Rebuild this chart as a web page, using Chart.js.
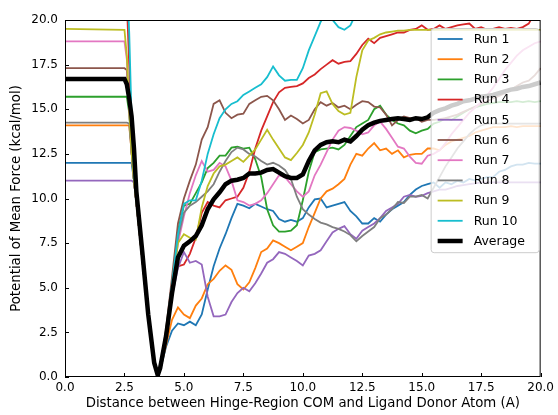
<!DOCTYPE html>
<html>
<head>
<meta charset="utf-8">
<title>PMF runs</title>
<script src="https://cdn.jsdelivr.net/npm/chart.js@4.4.1/dist/chart.umd.min.js"></script>
<style>
  html, body { margin: 0; padding: 0; background: #fff; }
  canvas { display: block; }
</style>
</head>
<body>
<canvas id="pmfChart" width="558" height="415"></canvas>
<script>
// distance grid (A) shared by all series
const xs = [
  0, 2.5, 2.6, 2.7, 2.8, 2.9, 3.0, 3.25, 3.5, 3.75, 3.9,
  4.0, 4.25, 4.5, 4.75, 5.0, 5.25, 5.5, 5.75, 6.0, 6.25, 6.5, 6.75, 7.0, 7.25, 7.5, 7.75,
  8.0, 8.25, 8.5, 8.75, 9.0, 9.25, 9.5, 9.75, 10.0, 10.25, 10.5, 10.75, 11.0, 11.25, 11.5, 11.75,
  12.0, 12.25, 12.5, 12.75, 13.0, 13.25, 13.5, 13.75, 14.0, 14.25, 14.5, 14.75, 15.0, 15.25, 15.5, 15.75,
  16.0, 16.25, 16.5, 16.75, 17.0, 17.25, 17.5, 17.75, 18.0, 18.25, 18.5, 18.75, 19.0, 19.25, 19.5, 19.75,
  20.0
];

// PMF (kcal/mol) per run
const run1 = [
  12, 12, 12, 12, 12, 11.0, 9.8, 6.6, 3.3, 0.9, 0.05,
  0.4, 1.7, 2.6, 3.0, 2.9, 3.1, 2.9, 3.5, 4.9, 6.2, 7.2, 8.0, 8.9, 9.7, 9.6, 9.45,
  9.7, 9.55, 9.4, 9.3, 8.85, 8.7, 8.8, 8.7, 8.9, 9.5, 9.95, 10.0, 9.5, 9.6, 9.7, 9.8,
  9.3, 9.0, 8.6, 8.6, 8.9, 8.7, 9.1, 9.4, 9.6, 9.8, 10.2, 10.5, 10.7, 10.8, 10.9, 10.6,
  10.9, 10.8, 11.0, 10.9, 11.1, 11.0, 11.1, 11.2, 11.2, 11.5, 11.6, 11.8, 11.9, 11.9, 12.0, 11.95,
  11.95
];
const run2 = [
  14.1, 14.1, 14.1, 14.1, 12.6, 11.0, 9.8, 6.6, 3.3, 0.9, 0.05,
  0.4, 1.8, 3.2, 3.9, 3.5, 3.3, 4.0, 4.4, 5.2, 5.5, 5.95, 6.25, 6.0, 5.2, 4.9, 5.3,
  6.1, 7.0, 7.2, 7.65, 7.5, 7.3, 7.1, 7.3, 7.5, 8.4, 9.2, 10.0, 10.4, 10.55, 10.8, 11.1,
  11.9, 12.5, 12.4, 12.8, 13.1, 12.7, 12.8, 12.5, 12.7, 12.3, 12.45, 12.5, 12.5, 12.8, 12.8, 12.7,
  13.0, 13.2, 13.3, 13.4, 13.5, 13.7, 13.8, 13.9, 14.0, 14.0, 14.0, 14.05, 14.0, 14.05, 14.05, 14.05,
  14.05
];
const run3 = [
  15.7, 15.7, 15.7, 14.8, 12.6, 11.0, 9.8, 6.6, 3.3, 0.9, 0.05,
  0.4, 2.6, 5.2, 8.2, 9.6, 9.7, 10.3, 10.9, 11.7, 12.0, 12.4, 12.4, 12.85, 12.9, 12.8, 12.85,
  12.2, 11.2, 9.4, 8.5, 8.14, 8.14, 8.2, 8.5, 9.9, 11.5, 12.6, 12.75, 12.8, 12.85, 12.75, 13.0,
  13.5, 14.0, 14.2, 14.4, 15.0, 15.2, 14.7, 14.4, 14.2, 14.1, 13.8, 13.65, 13.8, 13.9, 14.2, 14.3,
  14.5, 14.4, 14.6, 14.8, 15.0, 15.1, 15.2, 15.3, 15.35, 15.4, 15.4, 15.4, 15.45, 15.4, 15.45, 15.4,
  15.45
];
const run4 = [
  23, 23, 21, 17.5, 13.8, 11.3, 9.8, 6.6, 3.3, 0.9, 0.05,
  0.4, 2.4, 4.8, 6.2, 6.3, 6.9, 7.8, 9.2, 9.8, 9.6, 9.5, 9.9, 10.0, 10.1, 10.6, 11.5,
  12.8, 13.8, 14.6, 15.4, 15.95, 16.2, 16.25, 16.3, 16.45, 16.75, 16.95, 17.25, 17.5, 17.75, 17.55, 17.65,
  17.7, 18.1, 18.6, 18.95, 18.7, 19.0, 19.1, 19.2, 19.3, 19.3, 19.45, 19.5, 19.7, 19.45, 19.5, 19.7,
  19.5, 19.6, 19.7, 19.75, 19.8, 19.5, 19.6, 19.45, 19.5, 19.6, 19.5, 19.55, 19.5, 19.6, 19.8, 20.4,
  21
];
const run5 = [
  11, 11, 11, 11, 11, 10.9, 9.8, 6.6, 3.3, 0.9, 0.05,
  0.4, 2.4, 4.5, 6.1, 7.0, 6.4, 6.5, 6.3, 4.5, 3.4, 3.4, 3.5, 4.2, 4.7, 5.0, 4.8,
  5.25, 5.8, 6.4, 6.6, 7.0, 6.9, 6.7, 6.5, 6.25, 6.8, 6.9, 7.1, 7.6, 8.1, 8.3, 8.45,
  8.0, 7.75, 8.2, 8.4, 8.6, 8.9, 9.3, 9.5, 9.7, 10.1, 10.2, 10.1, 10.15, 10.3, 10.4, 10.5,
  10.5, 10.6, 10.7, 10.75, 10.8, 10.85, 10.9, 10.9, 10.9, 10.9, 10.9, 10.9, 10.9, 10.9, 10.9, 10.9,
  10.9
];
const run6 = [
  17.3, 17.3, 17.2, 15.0, 12.6, 11.0, 9.8, 6.6, 3.3, 0.9, 0.05,
  0.4, 2.7, 5.6, 8.6, 10.0, 11.0, 11.9, 13.3, 14.0, 15.3, 15.5, 14.8, 14.5, 14.7, 14.75, 15.3,
  15.5, 15.7, 15.75, 15.5, 15.0, 14.4, 14.65, 14.45, 14.2, 14.4, 15.0, 15.4, 15.2, 15.35, 15.1, 15.2,
  15.0, 15.25, 15.45, 15.4, 15.15, 15.1, 14.7, 14.1, 14.4, 14.6, 14.5, 14.5, 14.3, 14.4, 14.4, 14.45,
  14.5, 14.6, 14.7, 14.85, 15.0, 15.15, 15.3, 15.45, 15.6, 15.75, 15.9, 16.1, 16.3, 16.5, 16.6, 16.9,
  17.3
];
const run7 = [
  18.8, 18.8, 17.8, 15.0, 12.6, 11.0, 9.8, 6.6, 3.3, 0.9, 0.05,
  0.4, 2.5, 5.0, 7.5, 9.0, 10.3, 11.3, 12.1, 11.5, 11.6, 12.0, 11.8, 11.0, 9.9, 9.8, 9.6,
  9.7, 9.9, 10.3, 10.8, 11.3, 11.2, 10.8, 10.4, 10.1, 10.4, 11.3, 11.9, 12.6, 13.3, 13.8, 14.0,
  13.95, 13.8, 13.6, 13.7, 14.1, 14.3, 13.9, 13.4, 12.9, 12.8, 12.35, 12.0, 11.95, 12.4, 12.5, 12.7,
  13.1, 13.6, 14.0, 14.4, 14.8, 15.1, 15.4, 15.8, 16.2, 16.7, 17.2, 17.6, 18.0, 18.3, 18.5, 18.7,
  18.8
];
const run8 = [
  14.25, 14.25, 14.25, 14.2, 12.6, 11.0, 9.8, 6.6, 3.3, 0.9, 0.05,
  0.4, 2.5, 5.0, 7.8, 9.2, 9.6, 9.8, 10.1, 10.4, 10.8, 11.5, 12.1, 12.6, 12.85, 12.75, 12.5,
  12.35, 12.1, 11.9, 12.0, 11.85, 11.6, 11.1, 10.1, 9.4, 9.1, 8.85, 8.65, 8.55, 8.4, 8.3, 8.15,
  7.95, 7.6, 7.9, 8.15, 8.4, 8.9, 9.1, 9.4, 9.8, 9.75, 10.1, 10.1, 10.2, 10.0, 10.6, 11.2,
  11.8, 12.3, 12.8, 13.2, 13.6, 13.9, 14.1, 14.2, 14.2, 14.2, 14.2, 14.2, 14.2, 14.2, 14.2, 14.2,
  14.2
];
const run9 = [
  19.5, 19.45, 18.0, 15.0, 12.6, 11.0, 9.8, 6.6, 3.3, 0.9, 0.05,
  0.4, 2.5, 5.0, 7.5, 8.0, 7.8, 7.7, 9.5, 10.7, 11.4, 11.8, 11.9, 12.1, 12.3, 12.05, 12.4,
  12.75, 13.3, 13.85, 13.3, 12.8, 12.3, 12.15, 12.55, 13.0, 13.7, 14.7, 15.9, 16.0, 15.3, 14.9, 14.7,
  14.8, 16.8, 18.3, 18.85, 19.0, 19.2, 19.3, 19.35, 19.4, 19.4, 19.45, 19.45, 19.45, 19.45, 19.45, 19.45,
  19.45, 19.45, 19.45, 19.45, 19.45, 19.45, 19.45, 19.45, 19.45, 19.45, 19.45, 19.45, 19.45, 19.45, 19.45, 19.45,
  19.45
];
const run10 = [
  24, 24, 22.5, 19.3, 14.5, 11.5, 9.9, 6.7, 3.3, 0.9, 0.05,
  0.4, 2.5, 5.2, 8.0, 9.7, 9.9, 9.9, 11.0, 12.5, 13.6, 14.5, 15.0, 15.3, 15.45, 15.8, 16.0,
  16.2, 16.4, 16.8, 17.4, 16.9, 16.6, 16.65, 16.65, 17.3, 18.3, 19.1, 19.9, 20.4, 20.0, 19.6, 19.45,
  19.7, 20.4, 21.0, 21.4, 21.8, 22.0, 22.2, 22.3, 22.5, 22.6, 22.8, 22.9, 23.0, 23.1, 23.2, 23.3,
  23.4, 23.5, 23.6, 23.6, 23.7, 23.7, 23.8, 23.8, 23.9, 23.9, 23.9, 24.0, 24.0, 24.0, 24.0, 24.0,
  24.0
];
const average = [
  16.7, 16.7, 16.4, 15.6, 14.6, 12.8, 10.4, 7.0, 3.5, 0.8, 0.1,
  0.5, 2.3, 4.7, 6.7, 7.35, 7.6, 7.9, 8.5, 9.4, 9.95, 10.35, 10.8, 11.0, 11.05, 11.15, 11.4,
  11.4, 11.45, 11.6, 11.65, 11.45, 11.25, 11.15, 11.15, 11.35, 12.1, 12.7, 13.0, 13.15, 13.2, 13.15, 13.3,
  13.2, 13.5, 13.85, 14.1, 14.25, 14.35, 14.4, 14.45, 14.5, 14.45, 14.4, 14.5, 14.45, 14.55, 14.8, 14.95,
  15.05, 15.2, 15.3, 15.45, 15.5, 15.6, 15.7, 15.75, 15.8, 15.9, 16.0, 16.1, 16.15, 16.25, 16.3, 16.4,
  16.5
];

const seriesNames = ['Run 1', 'Run 2', 'Run 3', 'Run 4', 'Run 5', 'Run 6', 'Run 7', 'Run 8', 'Run 9', 'Run 10', 'Average'];
const seriesValues = [run1, run2, run3, run4, run5, run6, run7, run8, run9, run10, average];
const seriesColors = ['#1f77b4', '#ff7f0e', '#2ca02c', '#d62728', '#9467bd',
                      '#8c564b', '#e377c2', '#7f7f7f', '#bcbd22', '#17becf', '#000000'];
const tickValues = [0, 2.5, 5, 7.5, 10, 12.5, 15, 17.5, 20];

const tickFont = { family: 'DejaVu Sans', size: 12 };
const titleFont = { family: 'DejaVu Sans', size: 13.3 };
Chart.defaults.font.family = 'DejaVu Sans';
Chart.defaults.color = '#000';

// frame, inward ticks and an in-axes legend like matplotlib
const framePlugin = {
  id: 'frameAndLegend',
  afterDraw(chart) {
    const { ctx, chartArea: a, scales } = chart;
    ctx.save();
    ctx.strokeStyle = '#000';
    ctx.lineWidth = 1;
    ctx.strokeRect(a.left + 0.5, a.top + 0.5, a.right - a.left - 1, a.bottom - a.top - 1);
    ctx.beginPath();
    tickValues.forEach(v => {
      const px = Math.round(scales.x.getPixelForValue(v)) + 0.5;
      ctx.moveTo(px, a.bottom);
      ctx.lineTo(px, a.bottom - 4);
      const py = Math.round(scales.y.getPixelForValue(v)) + 0.5;
      ctx.moveTo(a.left, py);
      ctx.lineTo(a.left + 4, py);
    });
    ctx.stroke();

    // legend box
    const boxW = 108, rowH = 20.2;
    const boxH = rowH * seriesNames.length + 2;
    const bx = a.right - boxW - 2, by = a.top + 8;
    ctx.beginPath();
    ctx.roundRect(bx + 0.5, by + 0.5, boxW, boxH, 3);
    ctx.fillStyle = 'rgba(255,255,255,0.8)';
    ctx.fill();
    ctx.strokeStyle = '#cccccc';
    ctx.stroke();
    ctx.font = '12.5px "DejaVu Sans"';
    ctx.textBaseline = 'middle';
    ctx.textAlign = 'left';
    chart.data.datasets.forEach((ds, i) => {
      const cy = by + 11 + i * rowH;
      ctx.beginPath();
      ctx.strokeStyle = ds.borderColor;
      ctx.lineWidth = ds.borderWidth;
      ctx.moveTo(bx + 7, cy);
      ctx.lineTo(bx + 32, cy);
      ctx.stroke();
      ctx.fillStyle = '#000';
      ctx.fillText(ds.label, bx + 43, cy + 0.5);
    });
    ctx.restore();
  }
};

const datasets = seriesNames.map((name, i) => ({
  label: name,
  data: xs.map((x, j) => ({ x: x, y: seriesValues[i][j] })),
  borderColor: seriesColors[i],
  borderWidth: name === 'Average' ? 4.5 : 1.8,
  pointRadius: 0,
  tension: 0,
  fill: false,
  order: seriesNames.length - i
}));

const ctx = document.getElementById('pmfChart').getContext('2d');
new Chart(ctx, {
  type: 'line',
  data: { datasets: datasets },
  options: {
    responsive: false,
    animation: false,
    layout: { padding: { left: 0, right: 16, top: 20, bottom: 0 } },
    plugins: {
      legend: { display: false },
      tooltip: { enabled: false }
    },
    scales: {
      x: {
        type: 'linear',
        min: 0,
        max: 20,
        grid: { display: false, drawTicks: false },
        border: { display: false },
        ticks: {
          stepSize: 2.5,
          autoSkip: false,
          maxRotation: 0,
          padding: 4,
          font: tickFont,
          color: '#000',
          callback: v => v.toFixed(1)
        },
        title: {
          display: true,
          text: 'Distance between Hinge-Region COM and Ligand Donor Atom (A)',
          font: titleFont,
          color: '#000',
          padding: { top: 0, bottom: 3 }
        },
        afterFit: s => { s.height = 38; }
      },
      y: {
        type: 'linear',
        min: 0,
        max: 20,
        grid: { display: false, drawTicks: false },
        border: { display: false },
        ticks: {
          stepSize: 2.5,
          autoSkip: false,
          padding: 7,
          font: tickFont,
          color: '#000',
          callback: v => v.toFixed(1)
        },
        title: {
          display: true,
          text: 'Potential of Mean Force (kcal/mol)',
          font: titleFont,
          color: '#000',
          padding: { top: 9, bottom: 0 }
        },
        afterFit: s => { s.width = 65; }
      }
    }
  },
  plugins: [framePlugin]
});
</script>
</body>
</html>
